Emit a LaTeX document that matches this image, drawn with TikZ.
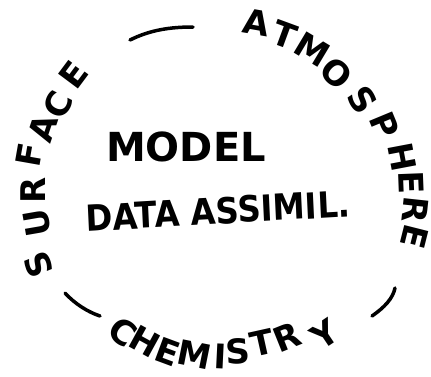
\documentclass[tikz,border=0pt]{standalone}
\usepackage{fontspec}
\setsansfont{DejaVu Sans}
\tikzset{
  ring/.style={font=\sffamily\bfseries\fontsize{34}{34}\selectfont, inner sep=0pt},
  centre/.style={font=\sffamily\bfseries\fontsize{40}{40}\selectfont, inner sep=0pt},
  stroke/.style={line width=3.5pt, line cap=round},
}
\begin{document}
\begin{tikzpicture}[x=1pt, y=-1pt]
  \useasboundingbox (0,0) rectangle (431,376);
  % letters round the ring, turned to the centre (228,190)
  \foreach \ch/\px/\py [count=\i] in {S/38/265, U/37/223, R/33/190, F/29/155, A/43/128, C/58/105, E/74/75} {
    \pgfmathsetmacro\rot{atan2(190-\py,\px-228)-90}
    \node[ring, rotate=\rot] (surf\i) at (\px,\py) {\ch};
  }
  \foreach \ch/\px/\py [count=\i] in {A/257/23, T/285/35, M/312/50, O/337/73, S/363/100, P/385/125, H/402/157, E/411/183, R/415/210, E/415/237} {
    \pgfmathsetmacro\rot{atan2(190-\py,\px-228)-90}
    \node[ring, rotate=\rot] (atmo\i) at (\px,\py) {\ch};
  }
  \foreach \ch/\px/\py [count=\i] in {C/123/332, H/145/341, E/168/352, M/195/355, I/220/356, S/238/351, T/262/343, R/287/337, Y/325/334} {
    \pgfmathsetmacro\rot{atan2(190-\py,\px-228)+90}
    \node[ring, rotate=\rot] (chem\i) at (\px,\py) {\ch};
  }
  % middle
  \node[centre] (model) at (186,147) {MODEL};
  \node[centre, font=\sffamily\bfseries\fontsize{36}{36}\selectfont, xscale=0.9, rotate=3] (assim) at (218,211) {DATA ASSIMIL.};
  % the three strokes between the words
  \draw[stroke] (130,40) .. controls (150,30) and (170,27) .. (193,27);
  \draw[stroke] (65,293) .. controls (75,304) and (88,312) .. (100,316);
  \draw[stroke] (372,316) .. controls (385,307) and (393,298) .. (395,288);
\end{tikzpicture}
\end{document}
